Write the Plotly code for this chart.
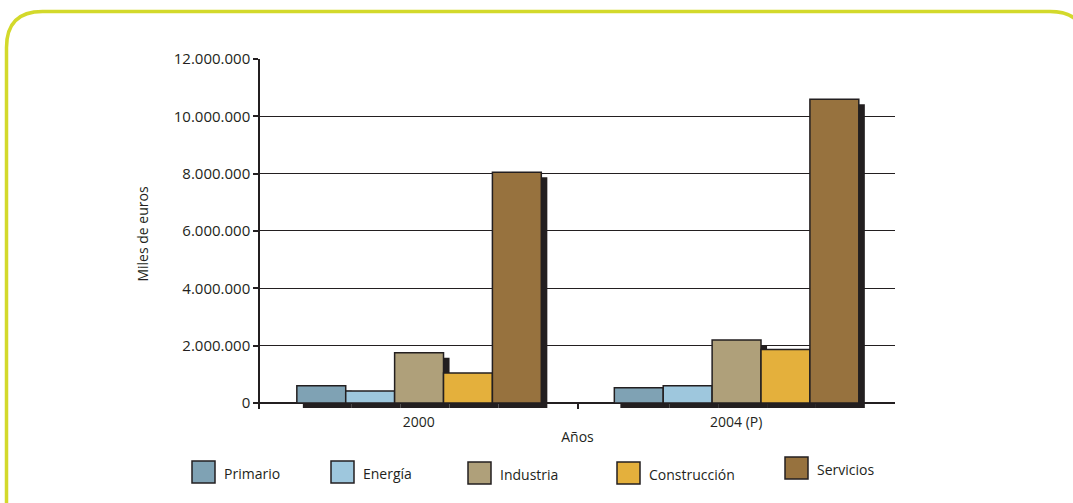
import plotly.graph_objects as go

# ---- data ----
years = ["2000", "2004 (P)"]
series_names = ["Primario", "Energía", "Industria", "Construcción", "Servicios"]
primario = [600000, 530000]
energia = [420000, 600000]
industria = [1750000, 2200000]
construccion = [1050000, 1870000]
servicios = [8050000, 10600000]
series_values = [primario, energia, industria, construccion, servicios]
colors = ["#7fa2b4", "#9ec7dd", "#afa07a", "#e4b03c", "#97723e"]
y_tickvals = [0, 2000000, 4000000, 6000000, 8000000, 10000000, 12000000]
y_ticktext = ["0", "2.000.000", "4.000.000", "6.000.000", "8.000.000", "10.000.000", "12.000.000"]

W, H = 1073, 503
L, R, T, B = 260, 178, 59, 94
pw, ph = W - L - R, H - T - B

def px_x(px):
    return (px - L) / pw

def px_y(py):
    return (H - B - py) / ph

FONT = "Open Sans"
DARK = "#231f20"
bar_w = 0.154
start = -0.384
shadow_dx = 0.019
shadow_dy = 175000
y_min = -210000

fig = go.Figure()

# shadows first
for i, (name, vals) in enumerate(zip(series_names, series_values)):
    fig.add_trace(go.Bar(
        x=years, y=vals, base=[-shadow_dy] * len(vals),
        width=bar_w, offset=start + i * bar_w + shadow_dx,
        marker=dict(color=DARK, line=dict(width=0)),
        showlegend=False, hoverinfo="skip",
    ))

for i, (name, vals) in enumerate(zip(series_names, series_values)):
    fig.add_trace(go.Bar(
        x=years, y=vals, name=name,
        width=bar_w, offset=start + i * bar_w,
        marker=dict(color=colors[i], line=dict(color=DARK, width=1.5)),
        showlegend=False,
    ))

shapes = []
annotations = []
# legend (manual, boxes + text)
leg_box_x = [192, 331, 468, 617, 785]
leg_box_y = [461, 461, 462, 462, 457]
for i, name in enumerate(series_names):
    x0, y0 = leg_box_x[i], leg_box_y[i]
    shapes.append(dict(type="rect", xref="paper", yref="paper",
                       x0=px_x(x0), x1=px_x(x0 + 23), y0=px_y(y0), y1=px_y(y0 + 22),
                       fillcolor=colors[i], line=dict(color=DARK, width=1.5)))
    annotations.append(dict(xref="paper", yref="paper", x=px_x(x0 + 30), y=px_y(y0 + 12),
                            text=name, showarrow=False, xanchor="left", yanchor="middle",
                            font=dict(family=FONT, size=14, color=DARK)))

# rounded frame
lx, ty, rx, by, rad = 6.5, 11.5, 1086, 540, 36
path = (f"M {px_x(lx)},{px_y(by)} L {px_x(lx)},{px_y(ty + rad)} "
        f"Q {px_x(lx)},{px_y(ty)} {px_x(lx + rad)},{px_y(ty)} "
        f"L {px_x(rx - rad)},{px_y(ty)} "
        f"Q {px_x(rx)},{px_y(ty)} {px_x(rx)},{px_y(ty + rad)} "
        f"L {px_x(rx)},{px_y(by)}")
shapes.append(dict(type="path", xref="paper", yref="paper", path=path,
                   line=dict(color="#d3d92b", width=3.5), layer="below"))

fig.update_layout(
    width=W, height=H,
    margin=dict(l=L, r=R, t=T, b=B, pad=0),
    barmode="overlay",
    plot_bgcolor="white", paper_bgcolor="white",
    font=dict(family=FONT, size=13, color=DARK),
    showlegend=False,
    shapes=shapes, annotations=annotations,
    xaxis=dict(
        type="category", range=[-0.5, 1.5],
        showline=False,
        ticks="inside", ticklen=6, tickcolor=DARK, tickwidth=1.5,
        tickson="boundaries", showgrid=False,
        ticklabelstandoff=3,
        tickfont=dict(family=FONT, size=14, color=DARK),
        title=dict(text="Años", font=dict(family=FONT, size=14, color=DARK), standoff=2),
    ),
    yaxis=dict(
        range=[y_min, 12000000],
        tickvals=y_tickvals, ticktext=y_ticktext,
        showline=True, linecolor=DARK, linewidth=1.5,
        ticks="outside", ticklen=5, tickcolor=DARK, tickwidth=1.5,
        showgrid=True, gridcolor=DARK, gridwidth=1,
        zeroline=True, zerolinecolor=DARK, zerolinewidth=1.5,
        tickfont=dict(family=FONT, size=15, color=DARK),
        title=dict(text="Miles de euros", font=dict(family=FONT, size=14, color=DARK), standoff=22),
    ),
)

fig.write_html("out.html", config={"displayModeBar": False},
               post_script="document.body.style.margin='0';document.body.style.overflow='hidden';")
